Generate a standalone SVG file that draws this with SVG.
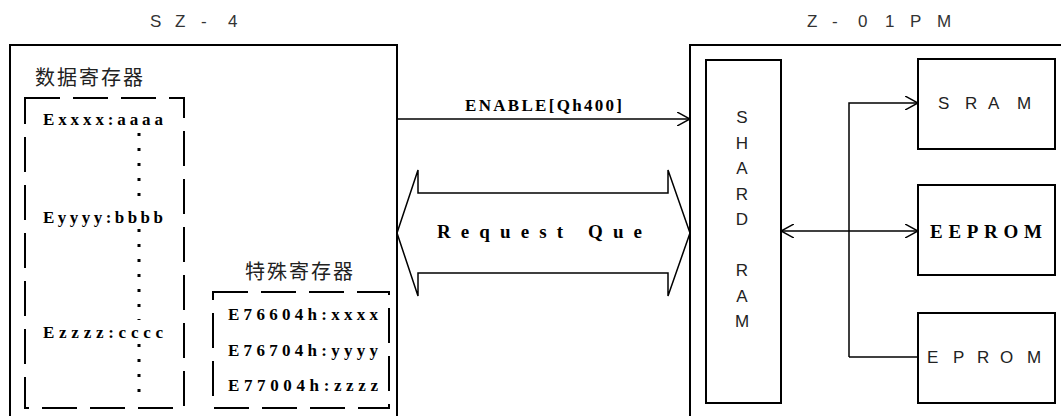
<svg xmlns="http://www.w3.org/2000/svg" width="1061" height="416" viewBox="0 0 1061 416">
  <style>
    .box { fill: none; stroke: #000; stroke-width: 2; }
    .dash { fill: none; stroke: #000; stroke-width: 2; stroke-dasharray: 35 13; }
    .wire { fill: none; stroke: #000; stroke-width: 1.5; }
    .title { font-family: "Liberation Sans", Arial, sans-serif; font-size: 17px; fill: #333; }
    .lbl { font-family: "Liberation Sans", Arial, sans-serif; font-size: 17px; fill: #222; }
    .cjk { font-family: "Noto Sans CJK SC", sans-serif; font-size: 20px; fill: #222; letter-spacing: 2px; }
    .reg { font-family: "Liberation Serif", serif; font-size: 17px; font-weight: bold; fill: #000; }
    .big { font-family: "Liberation Serif", serif; font-size: 19px; font-weight: bold; fill: #000; }
    .bold { font-family: "Liberation Serif", serif; font-size: 19px; font-weight: bold; fill: #000; }
  </style>
  <defs>
    <marker id="open" viewBox="0 0 14 14" refX="13" refY="7" markerWidth="14" markerHeight="14" markerUnits="userSpaceOnUse" orient="auto-start-reverse">
      <path d="M0 0 L13 7 L0 14" fill="none" stroke="#000" stroke-width="1.5"/>
    </marker>
  </defs>

  <!-- SZ-4 unit -->
  <g id="sz4">
    <text class="title" x="150 175 201 228" y="27">SZ-4</text>
    <rect class="box" x="10" y="45" width="387" height="380"/>
  </g>

  <!-- data registers -->
  <g id="data-registers">
    <text class="cjk" x="35" y="85">数据寄存器</text>
    <rect class="dash" x="25" y="98" width="159" height="310"/>
    <path d="M139 133 V205 M139 229 V320 M139 344 V400" fill="none" stroke="#000" stroke-width="3" stroke-dasharray="3 12"/>
    <text class="reg" x="43" y="125" textLength="120" lengthAdjust="spacing">Exxxx:aaaa</text>
    <text class="reg" x="43" y="223" textLength="120" lengthAdjust="spacing">Eyyyy:bbbb</text>
    <text class="reg" x="43" y="338" textLength="120" lengthAdjust="spacing">Ezzzz:cccc</text>
  </g>

  <!-- special registers -->
  <g id="special-registers">
    <text class="cjk" x="245" y="279">特殊寄存器</text>
    <rect class="dash" x="213" y="292" width="176" height="116"/>
    <text class="reg" x="228" y="320" textLength="150" lengthAdjust="spacing">E76604h:xxxx</text>
    <text class="reg" x="228" y="356" textLength="150" lengthAdjust="spacing">E76704h:yyyy</text>
    <text class="reg" x="228" y="391" textLength="150" lengthAdjust="spacing">E77004h:zzzz</text>
  </g>

  <!-- Z-01PM unit -->
  <g id="z01pm">
    <text class="title" x="807 832 858 885 910 937" y="27">Z-01PM</text>
    <rect class="box" x="690" y="45" width="380" height="380"/>
  </g>

  <g id="shard-ram">
    <rect class="box" x="706" y="60" width="75" height="343"/>
    <g class="lbl" text-anchor="middle">
      <text x="742" y="123">S</text>
      <text x="742" y="149">H</text>
      <text x="742" y="174">A</text>
      <text x="742" y="200">R</text>
      <text x="742" y="225">D</text>
      <text x="742" y="276">R</text>
      <text x="742" y="302">A</text>
      <text x="742" y="327">M</text>
    </g>
  </g>

  <g id="sram">
    <rect class="box" x="918" y="59" width="137" height="90"/>
    <text class="lbl" x="938 965 988 1017" y="109">SRAM</text>
  </g>

  <g id="eeprom">
    <rect class="box" x="918" y="185" width="137" height="90"/>
    <text class="bold" x="930" y="238" textLength="112" lengthAdjust="spacing">EEPROM</text>
  </g>

  <g id="eprom">
    <rect class="box" x="918" y="313" width="137" height="90"/>
    <text class="lbl" x="927 953 977 1000 1027" y="363">EPROM</text>
  </g>

  <!-- connectors -->
  <g id="connectors">
    <line class="wire" x1="397" y1="119" x2="690" y2="119" marker-end="url(#open)"/>
    <text class="reg" x="465" y="111" textLength="157" lengthAdjust="spacing">ENABLE[Qh400]</text>

    <!-- hollow two-way arrow -->
    <path class="wire" d="M418 193 H668 V170 L690 233 L668 296 V273 H418 V296 L397 233 L418 170 Z"/>
    <text class="big" x="437" y="238" textLength="205" lengthAdjust="spacing">Request Que</text>

    <line class="wire" x1="781" y1="231" x2="918" y2="231" marker-start="url(#open)" marker-end="url(#open)"/>
    <path class="wire" d="M849 357 V103 H918" marker-end="url(#open)"/>
    <line class="wire" x1="849" y1="357" x2="918" y2="357"/>
  </g>
</svg>
